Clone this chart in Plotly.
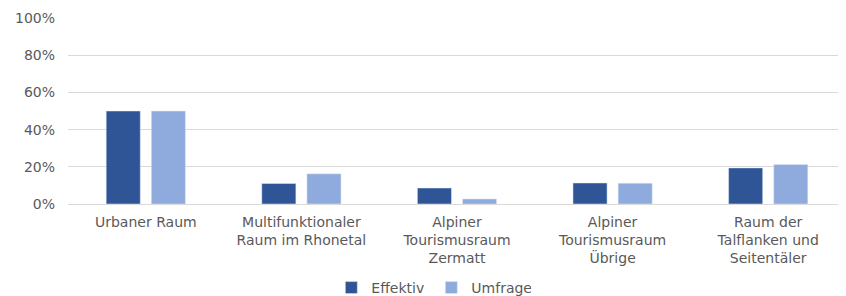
import plotly.graph_objects as go

categories = [
    "Urbaner Raum",
    "Multifunktionaler<br>Raum im Rhonetal",
    "Alpiner<br>Tourismusraum<br>Zermatt",
    "Alpiner<br>Tourismusraum<br>Übrige",
    "Raum der<br>Talflanken und<br>Seitentäler",
]
effektiv = [0.50, 0.11, 0.086, 0.113, 0.194]
umfrage = [0.50, 0.162, 0.027, 0.112, 0.213]
y_ticks = [0, 0.2, 0.4, 0.6, 0.8, 1.0]
y_labels = ["0%", "20%", "40%", "60%", "80%", "100%"]

font = dict(family="DejaVu Sans", size=14, color="#595959")

fig = go.Figure()
fig.add_trace(go.Bar(name="Effektiv", x=categories, y=effektiv, marker_color="#2F5597"))
fig.add_trace(go.Bar(name="Umfrage", x=categories, y=umfrage, marker_color="#8FAADC"))

# page body has an 8px default margin; size figure so the plot lands where the reference has it
fig.update_layout(
    width=838, height=288,
    margin=dict(l=60, r=0, t=10, b=92),
    paper_bgcolor="white", plot_bgcolor="white",
    barmode="group", bargap=0.42, bargroupgap=0.244,
    font=font,
    legend=dict(orientation="h", x=0.467, xanchor="center",
                yref="container", y=8 / 288, yanchor="middle",
                font=font, entrywidth=55, entrywidthmode="pixels"),
)
fig.update_yaxes(range=[0, 1.0], tickvals=y_ticks, ticktext=y_labels,
                 showgrid=True, gridcolor="#d9d9d9", gridwidth=1,
                 zeroline=True, zerolinecolor="#d9d9d9", zerolinewidth=1,
                 showline=False, ticks="", ticklabelstandoff=12, tickfont=font,
                 automargin=False)
fig.update_xaxes(showline=False, ticks="", tickfont=font, tickangle=0,
                 ticklabelstandoff=8, automargin=False)

fig.write_html("out.html")
